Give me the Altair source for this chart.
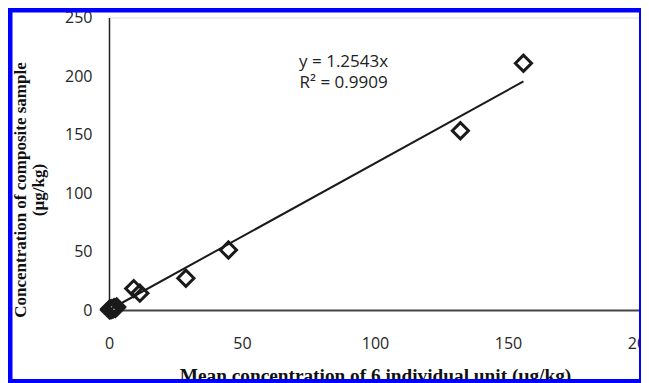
import altair as alt
import pandas as pd

# Measured data (mean of 6 individual units vs composite sample), µg/kg
mean_individual = [155.8, 132.1, 44.9, 28.9, 9.3, 11.6,
                   0.2, 0.5, 0.8, 1.1, 1.5, 1.9, 2.4, 2.9, 0.3]
composite = [210.9, 153.2, 51.3, 27.1, 18.3, 14.4,
             0.1, 0.6, 0.3, 1.2, 0.8, 1.9, 1.5, 2.6, 1.0]

SLOPE = 1.2543
eq_lines = ["y = 1.2543x", "R² = 0.9909"]
eq_x = [88.2, 88.2]
eq_y = [212, 194]

x_ticks = [0, 50, 100, 150, 200]
y_ticks = [0, 50, 100, 150, 200, 250]

pts = pd.DataFrame({"x": mean_individual, "y": composite})
trend = pd.DataFrame({"x": [0, max(mean_individual)],
                      "y": [0, SLOPE * max(mean_individual)]})
eq = pd.DataFrame({"t": eq_lines, "x": eq_x, "y": eq_y})

W, H = 532, 292.5
xs = alt.Scale(domain=[0, 200], nice=False)
ys = alt.Scale(domain=[0, 250], nice=False)

xaxis = alt.Axis(values=x_ticks, grid=False, ticks=False, domainColor="#444444",
                 domainWidth=2, labelFont="Open Sans", labelFontSize=16,
                 labelColor="#262626", labelPadding=25, labelFlush=False,
                 title="Mean concentration of 6 individual unit (µg/kg)",
                 titleFont="Liberation Serif", titleFontSize=19.3, titleFontWeight="bold",
                 titleColor="#111111", titleBaseline="alphabetic", titleY=71)
yaxis = alt.Axis(values=y_ticks, grid=False, ticks=False, domainColor="#222222",
                 domainWidth=1.5, labelFont="Open Sans", labelFontSize=16,
                 labelColor="#262626", labelPadding=17, labelFlush=False,
                 title=["Concentration  of composite sample", "(µg/kg)"],
                 titleFont="Liberation Serif", titleFontSize=17, titleFontWeight="bold",
                 titleColor="#111111", titleAngle=270, titleAlign="center",
                 titleBaseline="middle", titleX=-89, titleY=172, titleLineHeight=18)

line = alt.Chart(trend).mark_line(color="#1a1a1a", strokeWidth=2).encode(
    x=alt.X("x:Q", scale=xs, axis=xaxis),
    y=alt.Y("y:Q", scale=ys, axis=yaxis),
)
points = alt.Chart(pts).mark_point(shape="diamond", size=260, filled=False,
                                   color="#1a1a1a", strokeWidth=3, opacity=1).encode(
    x=alt.X("x:Q", scale=xs),
    y=alt.Y("y:Q", scale=ys),
)
label = alt.Chart(eq).mark_text(font="Open Sans", fontSize=17, color="#222222",
                                align="center", baseline="middle").encode(
    x=alt.X("x:Q", scale=xs),
    y=alt.Y("y:Q", scale=ys),
    text="t:N",
)
frame = alt.Chart(pd.DataFrame({"a": [0]})).mark_rect(
    fill="transparent", stroke="#0000ff", strokeWidth=4.5).encode(
    x=alt.value(-98.75), x2=alt.value(532.25),
    y=alt.value(-7.25), y2=alt.value(363.8),
)

chart = alt.layer(line, points, label, frame).properties(
    width=W, height=H,
    autosize=alt.AutoSizeParams(type="none"),
    padding={"left": 101, "top": 9.5, "right": 0, "bottom": 73},
).configure_view(strokeWidth=0).configure(background="white")

chart.save("out.html", embed_options={"renderer": "svg", "actions": False})
